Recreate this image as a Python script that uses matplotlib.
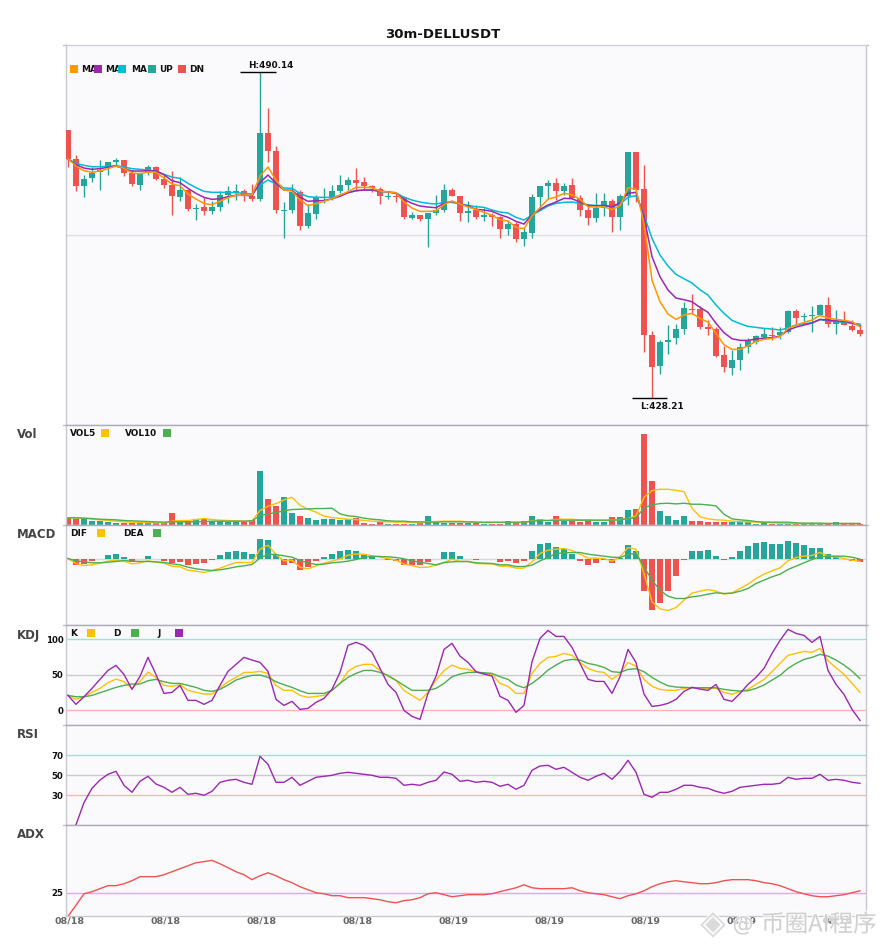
import numpy as np
import matplotlib
matplotlib.use("Agg")
import matplotlib.pyplot as plt
from matplotlib.patches import Rectangle
import matplotlib.patheffects as pe

# candles
opens = [479.12, 473.61, 468.54, 470.06, 471.2, 472.15, 473.1, 473.42, 470.89, 468.73,
         471.08, 472.09, 469.81, 468.67, 466.39, 467.72, 464.17, 464.49, 463.73, 464.55,
         466.77, 467.21, 467.53, 466.58, 466.07, 478.55, 475.13, 463.73, 463.92, 467.34,
         460.94, 463.22, 466.2, 466.14, 467.53, 468.67, 469.62, 469.24, 468.48, 467.97,
         466.39, 466.58, 466.33, 462.46, 462.97, 462.21, 463.35, 463.92, 467.72, 466.58,
         463.41, 463.92, 462.59, 462.97, 462.59, 460.31, 461.26, 458.41, 459.55, 466.39,
         468.48, 469.05, 467.53, 468.67, 466.2, 463.92, 462.4, 464.3, 465.63, 462.59,
         466.58, 474.94, 467.85, 440.17, 434.28, 438.84, 439.6, 441.31, 445.11, 445.11,
         441.69, 441.31, 436.37, 433.9, 435.42, 437.89, 438.84, 439.79, 440.17, 440.17,
         440.74, 444.73, 443.59, 443.78, 443.97, 445.87, 442.26, 442.83, 441.88, 441.12]
highs = [479.12, 474.37, 470.57, 472.15, 473.42, 473.04, 473.8, 473.42, 471.52, 471.2,
         472.41, 472.28, 470.57, 471.33, 470.25, 467.91, 465.06, 466.46, 465.63, 467.53,
         468.54, 468.86, 467.91, 468.86, 490.14, 483.24, 476.08, 465.38, 468.86, 467.72,
         465.06, 466.77, 468.1, 468.67, 470.57, 470.19, 471.9, 470.19, 468.67, 468.23,
         467.53, 467.4, 466.58, 463.54, 462.97, 463.35, 466.77, 468.86, 468.1, 466.58,
         465.63, 464.87, 464.3, 463.35, 462.78, 462.02, 461.64, 460.63, 466.96, 468.48,
         469.62, 470.0, 469.05, 470.0, 466.77, 464.68, 467.15, 467.15, 466.01, 466.96,
         474.94, 474.94, 472.47, 440.93, 439.22, 442.07, 442.26, 446.44, 447.96, 445.68,
         443.02, 441.69, 438.08, 437.32, 438.65, 439.6, 440.17, 441.5, 441.69, 441.69,
         444.92, 445.11, 444.35, 445.68, 446.06, 447.39, 444.92, 444.73, 443.02, 442.26]
lows = [472.15, 467.59, 466.46, 469.31, 467.72, 470.63, 472.28, 470.44, 468.54, 467.78,
        470.63, 469.68, 468.17, 463.04, 465.63, 463.79, 462.08, 462.97, 463.16, 463.79,
        465.19, 465.82, 465.7, 465.63, 465.7, 473.04, 463.41, 458.66, 463.41, 460.12,
        460.57, 462.27, 465.19, 465.82, 467.09, 467.72, 467.72, 467.72, 467.4, 465.06,
        466.01, 465.44, 462.21, 462.21, 461.83, 456.89, 462.97, 463.54, 466.58, 461.83,
        461.64, 462.21, 461.83, 460.88, 458.6, 459.17, 457.84, 457.08, 458.6, 464.3,
        466.01, 465.82, 466.77, 466.01, 462.78, 461.07, 461.64, 462.78, 459.74, 460.12,
        464.87, 465.44, 436.94, 428.21, 432.76, 436.56, 438.46, 440.36, 444.16, 441.31,
        440.17, 435.99, 433.14, 432.57, 433.52, 436.75, 438.46, 439.41, 439.22, 439.41,
        440.55, 442.26, 442.83, 440.74, 443.78, 441.69, 440.36, 442.07, 440.93, 439.98]
closes = [473.67, 468.54, 469.81, 471.01, 471.52, 473.04, 473.42, 471.01, 468.92, 470.76,
          472.09, 469.87, 468.73, 466.64, 467.72, 464.11, 464.3, 463.73, 464.49, 466.77,
          467.53, 467.53, 466.58, 466.07, 478.55, 475.19, 463.92, 463.92, 467.34, 460.94,
          463.35, 466.39, 466.33, 467.53, 468.67, 469.62, 469.05, 468.48, 468.04, 466.64,
          466.58, 466.39, 462.59, 462.97, 462.21, 463.35, 463.92, 467.72, 466.58, 463.35,
          463.73, 462.59, 462.97, 462.59, 460.31, 461.26, 458.41, 459.74, 466.39, 468.48,
          469.05, 467.53, 468.48, 466.2, 463.92, 462.4, 464.3, 465.63, 462.59, 466.58,
          474.94, 467.72, 440.24, 434.15, 438.84, 439.22, 441.31, 445.3, 444.86, 441.75,
          441.37, 436.18, 434.09, 435.42, 437.89, 439.03, 439.98, 440.36, 439.98, 440.74,
          444.73, 443.4, 443.78, 443.97, 445.87, 442.26, 442.83, 442.07, 441.12, 440.36]

ma5 = [473.67, 472.28, 471.39, 471.08, 471.33, 471.78, 472.28, 471.84, 470.95, 470.82,
       471.14, 471.08, 470.0, 468.86, 468.54, 466.96, 466.01, 465.19, 464.93, 465.57,
       466.26, 466.71, 466.77, 466.77, 470.38, 472.09, 469.62, 467.72, 467.53, 465.88,
       464.75, 465.12, 465.57, 466.07, 466.77, 467.4, 468.23, 468.23, 468.16, 467.53,
       467.34, 467.21, 465.44, 464.3, 463.67, 463.67, 463.73, 464.99, 465.63, 465.06,
       464.49, 464.05, 463.48, 462.91, 462.08, 461.83, 460.63, 460.37, 462.84, 464.36,
       466.01, 466.39, 467.09, 466.83, 465.95, 464.55, 464.49, 464.55, 463.98, 464.74,
       468.16, 467.91, 461.39, 450.62, 446.5, 444.16, 443.15, 443.97, 444.29, 443.34,
       442.64, 440.49, 438.34, 437.45, 437.45, 438.15, 438.97, 439.35, 439.54, 439.86,
       441.44, 442.07, 442.58, 443.02, 443.91, 443.4, 443.15, 442.96, 442.7, 441.75]
ma10 = [473.61, 472.53, 471.9, 471.65, 471.78, 472.03, 472.28, 471.78, 471.33, 471.33,
        471.39, 471.33, 470.63, 469.49, 469.11, 468.04, 467.09, 466.33, 465.95, 466.07,
        466.46, 466.71, 466.71, 466.64, 469.11, 470.57, 468.99, 467.72, 467.66, 466.39,
        465.57, 465.7, 465.7, 466.07, 466.52, 467.21, 467.59, 467.72, 467.72, 467.53,
        467.34, 467.09, 465.95, 465.19, 464.68, 464.49, 464.36, 465.19, 465.57, 465.06,
        464.68, 464.05, 463.92, 463.67, 463.03, 462.53, 461.77, 461.26, 463.03, 464.05,
        464.87, 465.44, 466.14, 466.07, 465.44, 464.81, 464.68, 464.81, 464.55, 465.31,
        467.09, 467.28, 462.66, 455.06, 451.25, 448.72, 447.2, 446.88, 446.5, 445.43,
        444.48, 442.39, 440.62, 439.47, 439.16, 439.16, 439.41, 439.6, 439.67, 439.98,
        441.06, 441.69, 442.07, 442.45, 443.15, 443.02, 442.89, 442.77, 442.51, 441.88]
ma20 = [473.61, 472.79, 472.41, 472.15, 472.15, 472.22, 472.34, 472.09, 471.78, 471.65,
        471.52, 471.33, 470.7, 470.19, 469.94, 468.99, 468.17, 467.47, 467.28, 467.28,
        467.28, 467.21, 467.09, 466.96, 468.67, 469.62, 468.86, 468.1, 468.04, 467.09,
        466.46, 466.33, 466.33, 466.33, 466.71, 467.21, 467.59, 467.72, 467.72, 467.4,
        467.34, 467.21, 466.33, 465.82, 465.44, 465.19, 465.06, 465.38, 465.38, 465.06,
        464.81, 464.55, 464.43, 463.92, 463.54, 463.35, 462.53, 462.02, 462.97, 463.79,
        464.68, 465.19, 465.38, 465.44, 465.19, 464.87, 464.81, 464.74, 464.49, 465.06,
        466.33, 466.64, 462.97, 458.54, 455.37, 453.28, 451.7, 450.87, 450.05, 448.78,
        447.77, 445.87, 444.29, 442.96, 442.33, 441.82, 441.63, 441.44, 441.31, 441.12,
        441.5, 442.07, 442.33, 442.51, 443.09, 442.89, 442.7, 442.58, 442.39, 442.26]

# volume (arbitrary units, no scale on the chart)
vol = [19, 18, 18, 11, 12, 7, 5, 6, 5, 8, 4, 4, 4, 35, 8, 12, 17, 17, 11, 12,
       9, 9, 9, 13, 161, 77, 56, 83, 35, 26, 20, 14, 17, 17, 14, 17, 20, 5, 3, 8,
       2, 3, 3, 3, 4, 26, 7, 6, 4, 4, 4, 4, 2, 2, 2, 11, 5, 11, 26, 17,
       9, 26, 12, 11, 8, 11, 8, 8, 23, 23, 44, 47, 272, 131, 41, 26, 14, 26, 11, 11,
       8, 8, 8, 8, 8, 8, 2, 6, 2, 2, 2, 2, 2, 2, 2, 3, 8, 3, 3, 2]
vol5 = [20, 20, 19, 16, 14, 12, 10, 8, 7, 6, 6, 5, 5, 10, 12, 12, 15, 18, 15, 13,
        12, 11, 10, 10, 42, 55, 63, 74, 82, 58, 46, 37, 25, 21, 18, 16, 15, 12, 10, 9,
        8, 7, 7, 6, 5, 8, 9, 10, 10, 10, 8, 7, 6, 6, 6, 6, 6, 6, 11, 14,
        12, 15, 16, 16, 14, 14, 13, 13, 13, 15, 18, 26, 82, 102, 106, 106, 103, 99, 49, 23,
        17, 14, 13, 10, 9, 8, 7, 7, 5, 4, 3, 3, 3, 3, 3, 3, 3, 3, 3, 3]
vol10 = [20, 20, 19, 18, 16, 15, 14, 12, 11, 10, 9, 8, 7, 8, 8, 8, 8, 9, 10, 10,
         10, 10, 10, 11, 27, 32, 36, 41, 45, 46, 47, 48, 48, 49, 32, 26, 24, 19, 16, 14,
         11, 10, 10, 8, 8, 7, 7, 8, 8, 8, 8, 7, 7, 7, 7, 7, 7, 7, 10, 12,
         12, 13, 13, 13, 13, 13, 13, 13, 13, 14, 18, 20, 50, 59, 63, 64, 62, 64, 61, 61,
         59, 56, 31, 17, 14, 12, 9, 7, 7, 7, 7, 5, 4, 4, 4, 3, 3, 3, 3, 3]

# macd (arbitrary units)
hist = [0, -20, -17, -8, 0, 10, 13, 4, -9, -2, 7, -2, -8, -14, -11, -20, -17, -14, -5, 10,
        19, 22, 19, 13, 58, 55, 12, -20, -14, -35, -26, -8, 4, 13, 22, 25, 22, 10, 6, -2,
        -5, -8, -20, -20, -20, -11, -2, 19, 19, 7, 0, -5, -2, -2, -11, -8, -14, -8, 22, 43,
        46, 34, 28, 13, -8, -20, -14, -5, -14, 1, 40, 22, -98, -155, -134, -98, -53, -5, 22, 22,
        25, 7, -5, 4, 22, 37, 46, 49, 43, 43, 52, 46, 40, 31, 31, 13, 7, -2, -8, -11]
dif = [0, -15, -21, -19, -14, -8, -5, -8, -16, -13, -7, -11, -14, -23, -25, -35, -38, -42, -37, -29,
       -20, -12, -12, -12, 28, 40, 12, -7, -5, -26, -31, -22, -14, -8, -1, 10, 13, 13, 8, 4,
       0, -5, -17, -21, -27, -26, -20, -13, -2, -9, -9, -15, -16, -16, -23, -23, -29, -29, -10, 15,
       25, 28, 30, 24, 13, 1, 1, 0, -8, 5, 33, 28, -45, -130, -151, -156, -147, -125, -104, -98,
       -93, -98, -107, -103, -90, -77, -60, -47, -37, -28, -7, 3, 7, 9, 18, 7, 5, 0, -5, -9]
dea = [0, -7, -10, -13, -13, -11, -9, -6, -8, -9, -9, -10, -12, -16, -19, -26, -31, -34, -36, -34,
       -30, -25, -22, -18, 1, 13, 12, 8, 4, -6, -13, -18, -17, -13, -11, -8, -3, 3, 7, 6,
       5, 3, -1, -7, -11, -15, -19, -12, -10, -9, -9, -13, -14, -15, -19, -19, -24, -24, -20, -7,
       3, 15, 17, 18, 18, 13, 10, 7, 4, 3, 12, 16, -25, -65, -95, -113, -120, -120, -115, -112,
       -107, -103, -105, -104, -98, -90, -75, -65, -55, -47, -33, -23, -13, -3, 5, 7, 7, 7, 4, -2]

k_line = [21.1, 15.5, 19.2, 25.4, 31.0, 39.0, 44.1, 40.4, 31.0, 40.8, 54.0, 46.5, 35.2, 33.8, 36.2, 28.2, 25.4, 23.0, 23.0, 31.9,
          40.4, 46.5, 53.5, 53.5, 54.9, 52.1, 35.2, 28.2, 28.2, 21.1, 18.3, 19.7, 21.1, 28.2, 38.0, 54.9, 62.0, 64.8, 64.8, 56.3,
          47.9, 42.3, 28.2, 21.1, 14.1, 25.4, 42.7, 55.9, 63.9, 59.2, 57.7, 54.5, 52.1, 50.7, 38.0, 33.8, 23.9, 23.9, 52.1, 66.2,
          74.7, 76.1, 80.3, 77.5, 67.6, 59.2, 54.9, 53.5, 43.7, 52.1, 67.6, 62.0, 43.7, 33.8, 29.6, 28.2, 28.2, 31.0, 32.4, 31.5,
          31.0, 31.0, 25.4, 22.5, 26.8, 29.6, 36.6, 43.7, 54.5, 66.2, 77.5, 80.3, 83.1, 81.7, 87.3, 70.0, 60.1, 50.7, 38.0, 25.4]
d_line = [21.1, 19.2, 19.2, 21.1, 24.9, 28.6, 32.4, 35.2, 37.1, 37.1, 41.8, 43.7, 40.4, 38.0, 38.0, 35.2, 32.4, 28.2, 26.8, 29.6,
          35.7, 42.7, 46.5, 49.3, 49.8, 46.5, 40.4, 36.2, 32.4, 27.7, 23.9, 23.9, 23.9, 28.2, 38.0, 46.5, 52.1, 56.3, 56.3, 53.5,
          49.3, 42.3, 35.2, 28.2, 28.2, 28.2, 31.0, 38.0, 47.4, 51.2, 53.5, 53.5, 53.1, 52.1, 47.4, 43.7, 35.7, 31.9, 38.0, 46.5,
          56.8, 63.9, 70.0, 71.8, 70.9, 66.2, 63.9, 60.6, 54.5, 53.5, 57.7, 58.7, 54.5, 46.5, 39.9, 34.7, 32.9, 32.4, 31.9, 31.9,
          31.9, 31.9, 29.6, 28.2, 27.2, 27.7, 31.0, 35.7, 42.7, 49.3, 59.2, 66.2, 71.8, 74.7, 78.9, 76.5, 70.9, 63.9, 55.4, 44.6]
j_line = [21.1, 8.5, 19.2, 31.0, 43.7, 56.3, 63.4, 50.7, 29.6, 47.9, 74.7, 50.7, 23.9, 25.4, 35.2, 14.1, 14.1, 8.5, 14.1, 35.2,
          54.9, 64.8, 74.7, 70.9, 67.6, 54.9, 15.5, 7.0, 12.7, 1.4, 2.8, 11.3, 16.9, 29.6, 53.5, 91.6, 95.8, 91.6, 81.7, 59.2,
          36.6, 25.4, 0.0, -8.5, -12.7, 23.9, 47.9, 85.9, 94.4, 76.5, 67.6, 54.5, 51.2, 48.4, 19.7, 14.1, -2.8, 7.0, 68.5, 101.4,
          112.7, 104.2, 104.2, 88.7, 66.2, 43.7, 40.8, 40.8, 23.9, 47.4, 85.9, 67.6, 23.0, 5.6, 7.0, 9.9, 15.5, 26.8, 32.4, 30.0,
          28.2, 36.6, 15.5, 12.7, 23.9, 36.6, 46.5, 59.2, 80.3, 98.6, 114.1, 108.5, 105.6, 95.8, 104.2, 56.3, 36.6, 22.5, 1.4, -14.1]

# first point of rsi is not on the chart
rsi = [np.nan, 0.5, 22.7, 37, 45.3, 51, 54, 40, 33, 44, 49, 41.3, 38, 33, 38, 31, 32, 30, 34, 43,
       45, 46, 43, 41, 69, 61, 43, 43, 48, 40, 44, 48, 49, 50, 52, 53, 52, 51, 50, 48,
       48, 47, 40, 41, 40, 43, 45, 53.3, 51, 44, 45, 43, 44, 43, 39, 41, 36, 40, 55, 59.3,
       60, 56, 58, 53, 48, 45, 49, 52, 46, 54, 65, 53, 31, 28, 33, 33, 36, 40, 40, 38,
       37, 34, 32, 34, 38, 39, 40, 41, 41, 42, 48, 46, 47, 47, 51, 45, 46, 45, 43, 42]
adx = [9.2, 16.6, 24.3, 25.7, 27.7, 29.7, 29.7, 31, 33, 35.7, 35.7, 35.7, 37, 39, 41, 43, 45, 45.7, 46.6, 44.3,
       41.7, 39, 37, 33.7, 36.3, 38.3, 36.3, 33.7, 31.7, 29, 27, 25, 24.3, 23, 23, 21.7, 21.7, 21.7, 21, 20.3,
       19, 18.3, 19.7, 20.3, 21.7, 24.3, 25, 23.7, 22.3, 23, 23.7, 23.7, 23.7, 24.3, 25.7, 27, 28.3, 30.3, 28.3, 27.7,
       27.7, 27.7, 27.7, 28.3, 26.3, 25, 24.3, 23.7, 22.3, 21, 23, 24.3, 26.3, 29, 31, 32.3, 33, 32.3, 31.7, 31,
       31, 31.7, 33, 33.7, 33.7, 33.7, 33, 31.7, 31, 29.7, 27.7, 25.7, 24.3, 23, 22.3, 22.3, 23, 23.7, 25, 26.3]

date_labels = ["08/18", "08/18", "08/18", "08/18", "08/19", "08/19", "08/19", "08/19", "08/19"]

UP = "#26A69A"
DN = "#EF5350"
ORANGE = "#FF9800"
PURPLE = "#9C27B0"
CYAN = "#00BCD4"
AMBER = "#FFC107"
GREEN = "#4CAF50"
BG = "#FAFAFC"
W, H = 885, 950

o, h, l, c = map(np.array, (opens, highs, lows, closes))
x = np.arange(len(opens))
up = c >= o

fig = plt.figure(figsize=(8.85, 9.5), dpi=100, facecolor="white")


def make_axes(top, bottom, edge):
    ax = fig.add_axes([65.5 / W, 1 - bottom / H, 800.5 / W, (bottom - top) / H])
    ax.set_facecolor(BG)
    ax.set_xlim(-0.31, 99.75)
    ax.set_xticks([])
    ax.set_yticks([])
    for s in ax.spines.values():
        s.set_color("#C8C8D0")
        s.set_linewidth(1)
    ax.spines["top"].set_color(edge)
    for side in (-0.003, 1.0):
        ax.plot([side, side + 0.003], [1, 1], color="#C0C0C8", lw=1, transform=ax.transAxes, clip_on=False)
    return ax


def px_text(px, py, s, **kw):
    kw.setdefault("fontweight", "bold")
    kw.setdefault("va", "center")
    return fig.text(px / W, 1 - py / H, s, **kw)


def legend(py, items):
    # items: text, text x, colour, square x
    for label, tx, col, sx in items:
        px_text(tx, py, label, fontsize=6.4, color="#111111", zorder=4)
        fig.add_artist(Rectangle((sx / W, 1 - (py + 4) / H), 8 / W, 8 / H, transform=fig.transFigure,
                                 facecolor=col, edgecolor="none", zorder=5))


def hline(ax, value, col):
    ax.axhline(value, color=col, lw=1, zorder=1)


# main panel
ax0 = make_axes(45, 424.5, "#D0D0D8")
ax0.set_ylim(423.18, 495.27)
hline(ax0, 459.18, "#DEDEE6")
ax0.vlines(x[up], l[up], h[up], color=UP, lw=1, zorder=2)
ax0.vlines(x[~up], l[~up], h[~up], color=DN, lw=1, zorder=2)
ax0.bar(x[up], np.maximum(c[up] - o[up], 0.1), bottom=o[up], width=0.75, color=UP, zorder=3)
ax0.bar(x[~up], np.maximum(o[~up] - c[~up], 0.1), bottom=c[~up], width=0.75, color=DN, zorder=3)
ax0.plot(x, ma20, color=CYAN, lw=1.1, zorder=4)
ax0.plot(x, ma10, color=PURPLE, lw=1.1, zorder=5)
ax0.plot(x, ma5, color=ORANGE, lw=1.1, zorder=6)

hi = int(np.argmax(h))
lo = int(np.argmin(l))
ax0.hlines(h[hi], hi - 2.5, hi + 2, color="black", lw=1, zorder=7)
ax0.hlines(l[lo], lo - 2.5, lo + 1.9, color="black", lw=1, zorder=7)
ax0.text(hi - 1.5, h[hi] + 1.3, f"H:{h[hi]:.2f}", fontsize=6.4, fontweight="bold", va="center", color="#111111")
ax0.text(lo - 1.5, l[lo] - 1.7, f"L:{l[lo]:.2f}", fontsize=6.4, fontweight="bold", va="center", color="#111111")

legend(69, [("MA", 81, ORANGE, 70), ("MA", 105, PURPLE, 94), ("MA", 131, CYAN, 118),
            ("UP", 159, UP, 148), ("DN", 189, DN, 178)])

# volume
ax1 = make_axes(424.5, 524.5, "#ACACB4")
ax1.set_ylim(0, 301)
vol_cols = [UP if u else DN for u in up]
ax1.bar(x, vol, width=0.75, color=vol_cols, zorder=2)
ax1.plot(x, vol5, color=AMBER, lw=1, zorder=3)
ax1.plot(x, vol10, color=GREEN, lw=1, zorder=4)
legend(433, [("VOL5", 70, AMBER, 101), ("VOL10", 125, GREEN, 163)])

# macd
ax2 = make_axes(524.5, 624.5, "#ACACB4")
ax2.set_ylim(-198, 102)
hline(ax2, 0, "#D8D8D8")
hist_cols = [UP if v >= 0 else DN for v in hist]
ax2.bar(x, hist, width=0.75, color=hist_cols, zorder=2)
ax2.plot(x, dif, color=AMBER, lw=1, zorder=3)
ax2.plot(x, dea, color=GREEN, lw=1, zorder=4)
legend(533, [("DIF", 70, AMBER, 97), ("DEA", 123, GREEN, 153)])

# kdj
ax3 = make_axes(624.5, 724.5, "#ACACB4")
ax3.set_ylim(-19.9, 121)
hline(ax3, 100, "#A8DCDC")
hline(ax3, 50, "#CCCCCC")
hline(ax3, 0, "#FFB4B4")
ax3.plot(x, k_line, color=AMBER, lw=1, zorder=3)
ax3.plot(x, d_line, color=GREEN, lw=1, zorder=4)
ax3.plot(x, j_line, color=PURPLE, lw=1, zorder=5)
legend(633, [("K", 70, AMBER, 87), ("D", 113, GREEN, 131), ("J", 157, PURPLE, 175)])
ax3.set_yticks([0, 50, 100])

# rsi
ax4 = make_axes(724.5, 824.5, "#ACACB4")
ax4.set_ylim(0.8, 100.8)
hline(ax4, 70, "#A8DCDC")
hline(ax4, 50, "#CCCCCC")
hline(ax4, 30, "#FFB4B4")
ax4.plot(x, rsi, color=PURPLE, lw=1, zorder=3)
ax4.set_yticks([30, 50, 70])

# adx
ax5 = make_axes(824.5, 915.5, "#ACACB4")
ax5.set_ylim(9.8, 70.5)
hline(ax5, 25, "#E0A8E8")
ax5.plot(x, adx, color=DN, lw=1, zorder=3)
ax5.set_yticks([25])
ax5.set_xticks(x[::12][:len(date_labels)] + 0.25)
ax5.set_xticklabels(date_labels, fontsize=6.8, fontweight="bold", color="#666666")

for ax in (ax3, ax4, ax5):
    ax.tick_params(axis="y", length=0, pad=1.5, labelsize=6.2, labelcolor="#111111")
    for t in ax.get_yticklabels():
        t.set_fontweight("bold")
ax5.tick_params(axis="x", length=0, pad=1)

# panel names
for name, py in zip(["Vol", "MACD", "KDJ", "RSI", "ADX"], [435, 535, 635, 735, 835]):
    px_text(17, py, name, fontsize=8.5, color="#444444")

px_text(443, 34.5, "30m-DELLUSDT", fontsize=9.5, color="#111111", ha="center")

# watermark
glow = [pe.withStroke(linewidth=2, foreground="white", alpha=0.7)]
wm_fonts = ["Noto Sans CJK SC", "DejaVu Sans"]
px_text(713, 924, "◈", fontsize=24, color="#DADADA", ha="center", fontweight="normal",
        family="DejaVu Sans", path_effects=glow, zorder=8)
px_text(743, 925, "@", fontsize=15, color="#D0D0D0", ha="center", fontweight="normal",
        path_effects=glow, zorder=8)
px_text(761, 925, "币圈AI程序", fontsize=17, color="#D0D0D0", ha="left", fontweight="normal",
        family=wm_fonts, path_effects=glow, zorder=8)

fig.savefig("out.png", dpi=100, facecolor="white")
